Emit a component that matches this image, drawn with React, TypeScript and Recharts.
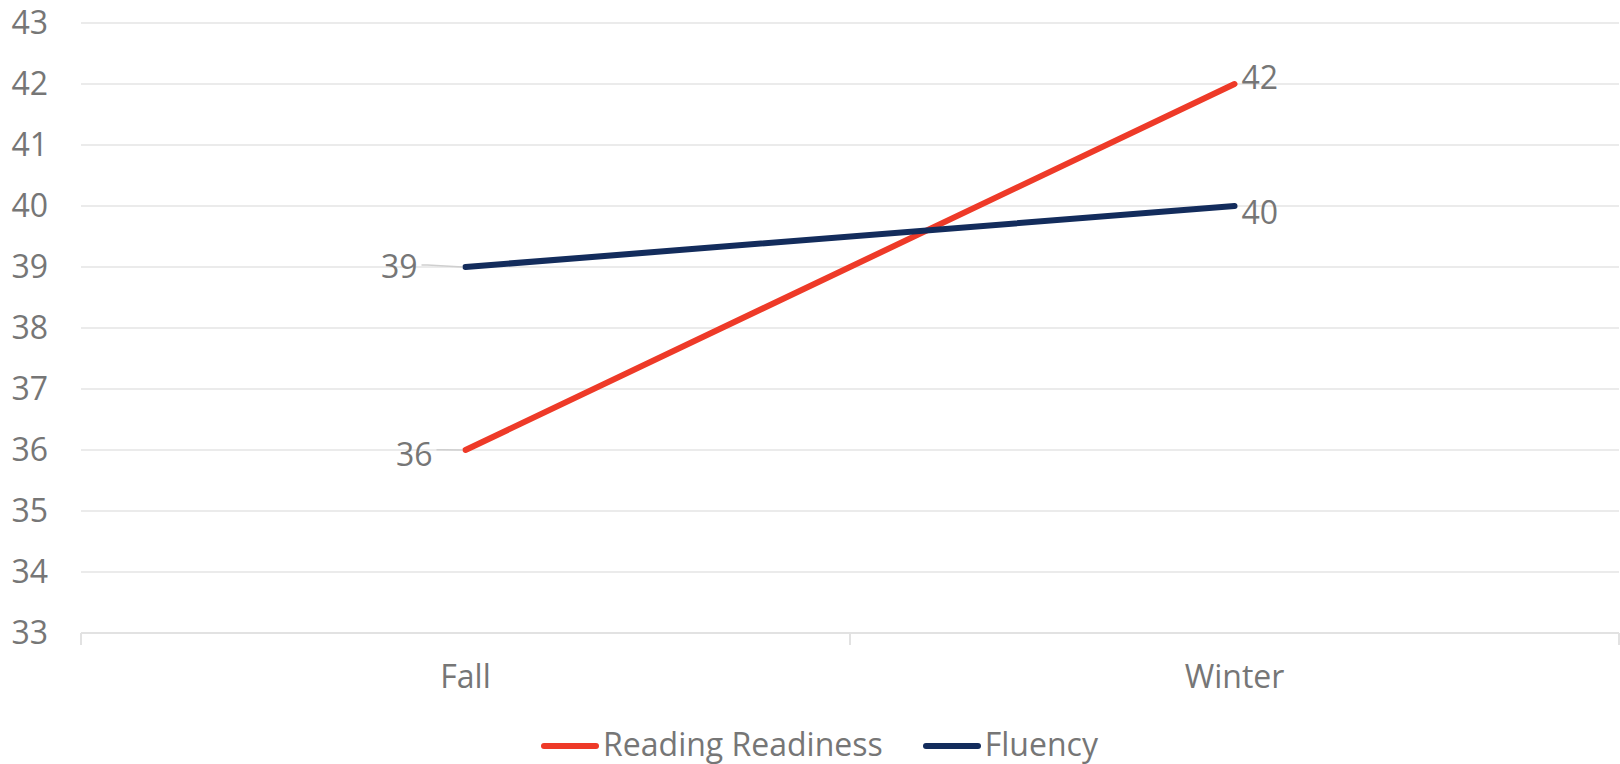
import { LineChart, Line, XAxis, YAxis, CartesianGrid, Legend, LabelList } from 'recharts';

const categories = ['Fall', 'Winter'];
const readingReadiness = [36, 42];
const fluency = [39, 40];
const yTicks = [33, 34, 35, 36, 37, 38, 39, 40, 41, 42, 43];

const RED = '#EE3A28';
const NAVY = '#132C5C';
const TEXT = '#767676';
const FONT = '"Open Sans", sans-serif';
const FONT_SIZE = 32;

const data = categories.map((name, i) => ({
  pos: i + 0.5,
  name,
  reading: readingReadiness[i],
  fluency: fluency[i],
}));

// boundary ticks at whole numbers, category names at the band centres
const xTicks = [0, 0.5, 1, 1.5, 2];

const XTick = (props: any) => {
  const { x, y, payload } = props;
  const v = payload.value as number;
  if (Number.isInteger(v)) {
    return <line x1={x} x2={x} y1={y} y2={y + 12} stroke="#e2e2e2" strokeWidth={2} />;
  }
  return (
    <text x={x} y={y + 44} dy="0.355em" textAnchor="middle" fill={TEXT} fontSize={FONT_SIZE} fontFamily={FONT}>
      {categories[Math.floor(v)]}
    </text>
  );
};

// first point: label on the left with a short leader, last point: label on the right
const makeLabel = (leftGap: number, leftDy: number, rightDy: number) => (props: any) => {
  const { x, y, value, index } = props;
  if (index === 0) {
    return (
      <g>
        <path d={`M${x - 3},${y} L${x - leftGap + 10},${y - 2 + leftDy / 3} L${x - leftGap + 4},${y - 2 + leftDy / 3}`} stroke="#cfcfcf" strokeWidth={1.5} fill="none" />
        <text x={x - leftGap} y={y + leftDy} dy="0.355em" textAnchor="end" fill={TEXT} fontSize={FONT_SIZE} fontFamily={FONT}>
          {value}
        </text>
      </g>
    );
  }
  return (
    <text x={x + 7} y={y + rightDy} dy="0.355em" textAnchor="start" fill={TEXT} fontSize={FONT_SIZE} fontFamily={FONT}>
      {value}
    </text>
  );
};

const series = [
  { key: 'reading', name: 'Reading Readiness', color: RED },
  { key: 'fluency', name: 'Fluency', color: NAVY },
];

const LegendContent = () => (
  <div style={{ display: 'flex', justifyContent: 'center', alignItems: 'center', height: 36, paddingLeft: 20, fontFamily: FONT, fontSize: FONT_SIZE, color: TEXT }}>
    {series.map((s, i) => (
      <div key={s.key} style={{ display: 'flex', alignItems: 'center', marginLeft: i ? 40 : 0 }}>
        <span style={{ display: 'inline-block', width: 58, height: 6, borderRadius: 3, background: s.color, marginRight: 4, position: 'relative', top: 2 }} />
        <span style={{ position: 'relative', top: -1 }}>{s.name}</span>
      </div>
    ))}
  </div>
);

export default function App() {
  return (
    <div style={{ position: 'absolute', left: 0, top: 0, width: 1620, height: 764, background: '#fff' }}>
      <LineChart width={1620} height={764} data={data} margin={{ top: 23, right: 1, left: 0, bottom: 2 }}>
        <CartesianGrid vertical={false} stroke="#ebebeb" strokeWidth={2} />
        <XAxis
          dataKey="pos"
          type="number"
          domain={[0, 2]}
          ticks={xTicks}
          interval={0}
          height={93}
          tickSize={0}
          tickMargin={0}
          tickLine={false}
          axisLine={{ stroke: '#e2e2e2', strokeWidth: 2 }}
          tick={<XTick />}
        />
        <YAxis
          type="number"
          domain={[33, 43]}
          ticks={yTicks}
          interval={0}
          width={81}
          axisLine={false}
          tickLine={false}
          tickMargin={27}
          tick={{ fill: TEXT, fontSize: FONT_SIZE, fontFamily: FONT }}
        />
        <Legend verticalAlign="bottom" wrapperStyle={{ height: 36 }} content={<LegendContent />} />
        <Line
          type="linear"
          dataKey="reading"
          name="Reading Readiness"
          stroke={RED}
          strokeWidth={6}
          strokeLinecap="round"
          dot={false}
          activeDot={false}
          isAnimationActive={false}
        >
          <LabelList dataKey="reading" content={makeLabel(33, 5, -6)} />
        </Line>
        <Line
          type="linear"
          dataKey="fluency"
          name="Fluency"
          stroke={NAVY}
          strokeWidth={6}
          strokeLinecap="round"
          dot={false}
          activeDot={false}
          isAnimationActive={false}
        >
          <LabelList dataKey="fluency" content={makeLabel(48, 0, 7)} />
        </Line>
      </LineChart>
    </div>
  );
}
